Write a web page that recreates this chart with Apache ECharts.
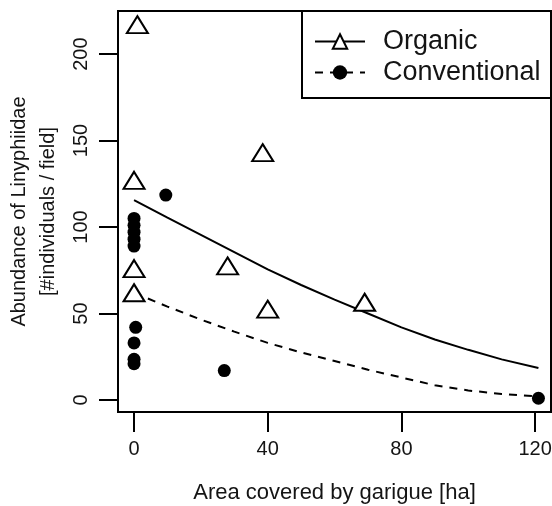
<!DOCTYPE html>
<html>
<head>
<meta charset="utf-8">
<script src="https://cdn.jsdelivr.net/npm/echarts@6/dist/echarts.min.js"></script>
<style>
  html, body { margin: 0; padding: 0; background: #fff; }
  #chart { width: 552px; height: 506px; }
</style>
</head>
<body>
<div id="chart"></div>
<script>
// Observed abundance per field, organic farms
const organicArea = [1, 0, 38.5, 0, 28, 0, 40, 69];
const organicAbundance = [217, 127, 143, 76, 77.5, 62, 52.5, 56.5];

// Observed abundance per field, conventional farms
const conventionalArea = [9.5, 0, 0, 0, 0, 0, 0.5, 0, 0, 0, 27, 121];
const conventionalAbundance = [118.5, 105, 101, 97, 93, 89, 42, 33, 23.5, 21, 17, 1];

// Fitted trend curves, sampled along the garigue area
const fitArea = [0, 10, 20, 30, 40, 50, 60, 70, 80, 90, 100, 110, 121];
const organicFit = [115.6, 105.5, 95.5, 85.5, 75.5, 66.5, 58, 50, 42, 35, 29, 23.5, 18.5];
const conventionalFit = [62, 54, 46.5, 39.5, 33, 27.5, 22.5, 17.5, 13, 8.5, 5.5, 3.5, 2];

// Tick positions
const xTicks = [0, 40, 80, 120];
const yTicks = [0, 50, 100, 150, 200];

const pairs = (xs, ys) => xs.map((x, i) => [x, ys[i]]);

const INK = '#141414';
const FONT = '"Liberation Sans", Arial, Helvetica, sans-serif';

const chart = echarts.init(document.getElementById('chart'), null, { renderer: 'canvas' });

chart.setOption({
  animation: false,
  backgroundColor: '#fff',
  textStyle: { fontFamily: FONT, color: INK },
  grid: {
    left: 118, right: 1, top: 11, bottom: 94,
    containLabel: false, outerBoundsMode: 'none',
    show: true, borderColor: '#000', borderWidth: 2, backgroundColor: 'transparent'
  },
  xAxis: {
    type: 'value',
    min: -4.8, max: 124.76,
    name: 'Area covered by garigue [ha]',
    nameLocation: 'middle',
    nameGap: 70,
    nameTextStyle: { fontSize: 22, color: INK, fontFamily: FONT },
    axisLine: { show: false, onZero: false },
    splitLine: { show: false },
    axisTick: {
      show: true, inside: false, length: 20, customValues: xTicks,
      lineStyle: { color: '#000', width: 2 }
    },
    axisLabel: {
      customValues: xTicks, fontSize: 20, margin: 27, color: INK, fontFamily: FONT,
      hideOverlap: false
    }
  },
  yAxis: {
    type: 'value',
    min: -6.94, max: 224.9,
    name: 'Abundance of Linyphiidae\n[#individuals / field]',
    nameLocation: 'middle',
    nameGap: 55,
    nameTextStyle: { fontSize: 20, lineHeight: 29, color: INK, fontFamily: FONT },
    axisLine: { show: false, onZero: false },
    splitLine: { show: false },
    axisTick: {
      show: true, inside: false, length: 19, customValues: yTicks,
      lineStyle: { color: '#000', width: 2 }
    },
    axisLabel: {
      customValues: yTicks, fontSize: 20, margin: 27, rotate: 90, color: INK, fontFamily: FONT
    }
  },
  legend: {
    orient: 'vertical',
    left: 309, top: 23,
    itemWidth: 50, itemHeight: 18, itemGap: 4,
    data: ['Organic', 'Conventional'],
    textStyle: { fontSize: 27, color: INK, fontFamily: FONT, padding: [0, 0, 0, 13] },
    selectedMode: false
  },
  graphic: [{
    type: 'rect',
    shape: { x: 302, y: 11, width: 260, height: 87 },
    style: { fill: 'none', stroke: '#000', lineWidth: 2 },
    silent: true, z: 100
  }],
  series: [
    {
      name: 'Organic', type: 'line',
      data: pairs(fitArea, organicFit),
      symbol: 'triangle', showSymbol: false, smooth: false,
      lineStyle: { color: '#000', width: 2, type: 'solid' },
      itemStyle: { color: '#fff', borderColor: '#000', borderWidth: 2 },
      emphasis: { disabled: true }, silent: true, z: 2
    },
    {
      name: 'Conventional', type: 'line',
      data: pairs(fitArea, conventionalFit),
      symbol: 'circle', showSymbol: false, smooth: false,
      lineStyle: { color: '#000', width: 2, type: [8, 7] },
      itemStyle: { color: '#000' },
      emphasis: { disabled: true }, silent: true, z: 2
    },
    {
      name: 'Organic', type: 'scatter',
      data: pairs(organicArea, organicAbundance),
      symbol: 'triangle', symbolSize: [21, 17],
      itemStyle: { color: '#fff', borderColor: '#000', borderWidth: 2, opacity: 1 },
      emphasis: { disabled: true }, silent: true, z: 3
    },
    {
      name: 'Conventional', type: 'scatter',
      data: pairs(conventionalArea, conventionalAbundance),
      symbol: 'circle', symbolSize: 13,
      itemStyle: { color: '#000', opacity: 1 },
      emphasis: { disabled: true }, silent: true, z: 3
    }
  ]
});
</script>
</body>
</html>
